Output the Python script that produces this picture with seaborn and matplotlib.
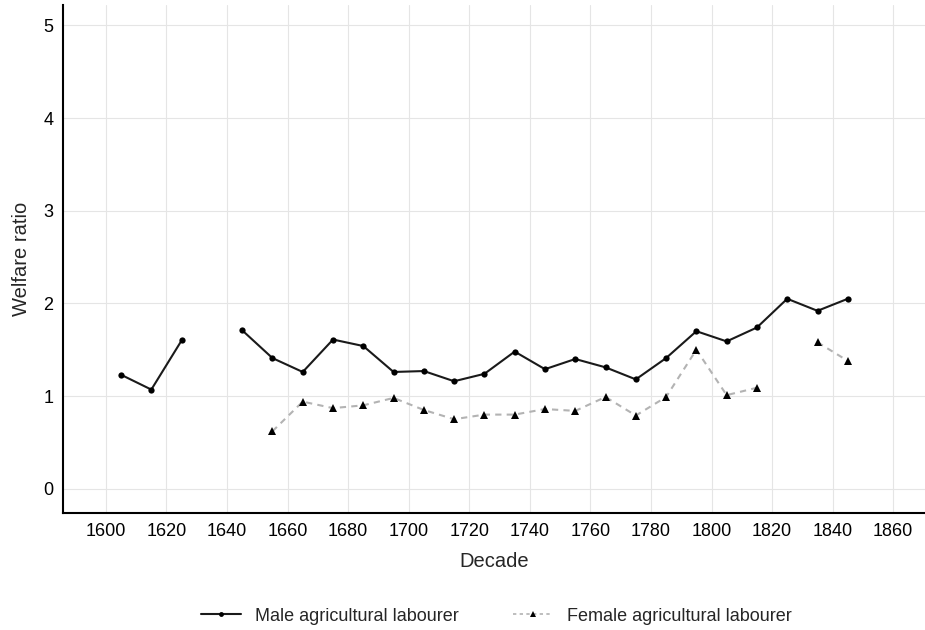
import numpy as np
import pandas as pd
import matplotlib
matplotlib.use("Agg")
import matplotlib.pyplot as plt
import seaborn as sns
from matplotlib.lines import Line2D

decades = [1605, 1615, 1625, 1635, 1645, 1655, 1665, 1675, 1685, 1695, 1705, 1715,
           1725, 1735, 1745, 1755, 1765, 1775, 1785, 1795, 1805, 1815, 1825, 1835, 1845]
male = [1.23, 1.07, 1.60, np.nan, 1.71, 1.41, 1.26, 1.61, 1.54, 1.26, 1.27, 1.16,
        1.24, 1.48, 1.29, 1.40, 1.31, 1.18, 1.41, 1.70, 1.59, 1.74, 2.05, 1.92, 2.05]
female = [np.nan, np.nan, np.nan, np.nan, np.nan, 0.62, 0.94, 0.87, 0.90, 0.98, 0.85, 0.75,
          0.80, 0.80, 0.86, 0.84, 0.99, 0.79, 0.99, 1.50, 1.01, 1.09, np.nan, 1.58, 1.38]
series_names = ["Male agricultural labourer", "Female agricultural labourer"]
x_ticks = list(range(1600, 1861, 20))
y_ticks = [0, 1, 2, 3, 4, 5]

sns.set_style("white")
plt.rcParams['font.family'] = ['Liberation Sans', 'DejaVu Sans']

fig = plt.figure(figsize=(9.25, 6.3), dpi=100)
ax = fig.add_axes([0.068, 0.186, 0.932, 0.806])

def segments(xs, ys):
    segs, cur = [], []
    for x, y in zip(xs, ys):
        if np.isnan(y):
            if cur:
                segs.append(cur); cur = []
        else:
            cur.append((x, y))
    if cur:
        segs.append(cur)
    return segs

for seg in segments(decades, male):
    df = pd.DataFrame(seg, columns=["Decade", "Welfare"])
    sns.lineplot(data=df, x="Decade", y="Welfare", ax=ax, color="#1a1a1a", lw=1.5,
                 marker="o", markersize=4.5, markeredgewidth=0, markerfacecolor="black",
                 estimator=None, sort=False)

for seg in segments(decades, female):
    df = pd.DataFrame(seg, columns=["Decade", "Welfare"])
    sns.lineplot(data=df, x="Decade", y="Welfare", ax=ax, color="#b3b3b3", lw=1.5,
                 linestyle=(0, (3, 2.5)), marker="^", markersize=6, markeredgewidth=0,
                 markerfacecolor="black", estimator=None, sort=False)

ax.set_xlim(1585.8, 1870.5)
ax.set_ylim(-0.26, 5.22)
ax.set_xticks(x_ticks)
ax.set_yticks(y_ticks)
ax.grid(True, color="#e5e5e5", lw=0.8)
ax.set_axisbelow(True)
for s in ["top", "right"]:
    ax.spines[s].set_visible(False)
for s in ["left", "bottom"]:
    ax.spines[s].set_color("black")
    ax.spines[s].set_linewidth(1.5)
ax.tick_params(axis="both", length=0, labelsize=13, colors="black", pad=7)
ax.set_xlabel("Decade", fontsize=14.5, labelpad=9)
ax.set_ylabel("Welfare ratio", fontsize=14.5, labelpad=9)

handles = [
    Line2D([], [], color="#1a1a1a", lw=1.5, marker="o", markersize=3.5,
           markeredgewidth=0, markerfacecolor="black"),
    Line2D([], [], color="#b3b3b3", lw=1.2, linestyle=(0, (2, 2)), marker="^",
           markersize=4.5, markeredgewidth=0, markerfacecolor="black"),
]
fig.legend(handles, series_names, loc="center", bbox_to_anchor=(0.537, 0.022),
           ncol=2, frameon=False, fontsize=13, handlelength=2.2, columnspacing=3.0)

fig.savefig("out.png", dpi=100)
